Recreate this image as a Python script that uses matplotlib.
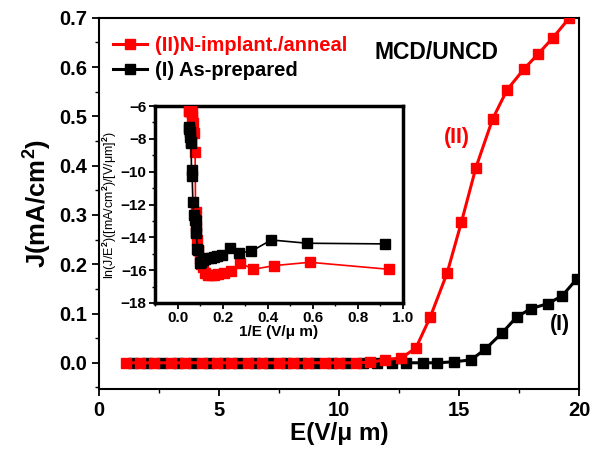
import matplotlib
matplotlib.use("Agg")
import matplotlib.pyplot as plt
from matplotlib.ticker import MultipleLocator

plt.rcParams['font.family'] = ['Liberation Sans', 'DejaVu Sans']
plt.rcParams['font.weight'] = 'bold'
plt.rcParams['mathtext.fontset'] = 'custom'
plt.rcParams['mathtext.rm'] = 'Liberation Sans:bold'
plt.rcParams['mathtext.it'] = 'Liberation Sans:bold'
plt.rcParams['mathtext.bf'] = 'Liberation Sans:bold'
plt.rcParams['mathtext.default'] = 'bf'

# ---- main panel data: J-E curves ----
E_II = [1.1, 1.7, 2.3, 3.0, 3.6, 4.3, 4.9, 5.5, 6.2, 6.8, 7.5, 8.1, 8.7, 9.4, 10.0,
        10.7, 11.3, 11.9, 12.6, 13.2, 13.8, 14.5, 15.1, 15.7, 16.4, 17.0, 17.7, 18.3, 18.9, 19.6]
J_II = [0.0, 0.0, 0.0, 0.0, 0.0, 0.0, 0.0, 0.0, 0.0, 0.0, 0.0, 0.0, 0.0, 0.0, 0.0,
        0.0, 0.001, 0.006, 0.010, 0.030, 0.093, 0.182, 0.286, 0.396, 0.495, 0.554, 0.596, 0.627, 0.659, 0.700]

E_I = [1.4, 2.0, 2.6, 3.3, 3.9, 4.6, 5.2, 5.8, 6.5, 7.1, 7.8, 8.4, 9.0, 9.7, 10.3,
       11.0, 11.6, 12.2, 12.8, 13.5, 14.1, 14.8, 15.5, 16.1, 16.8, 17.4, 18.0, 18.7, 19.3, 19.9]
J_I = [0.0, 0.0, 0.0, 0.0, 0.0, 0.0, 0.0, 0.0, 0.0, 0.0, 0.0, 0.0, 0.0, 0.0, 0.0,
       0.0, 0.0, 0.0, 0.0, 0.0, 0.0, 0.002, 0.006, 0.028, 0.061, 0.093, 0.110, 0.120, 0.136, 0.170]

# ---- inset data: F-N plot ----
invE_II = [0.051, 0.053, 0.055, 0.057, 0.059, 0.061, 0.064, 0.066, 0.069, 0.073, 0.078, 0.080,
           0.084, 0.088, 0.093, 0.100, 0.106, 0.115, 0.123, 0.133, 0.147, 0.161, 0.180, 0.204,
           0.235, 0.278, 0.335, 0.430, 0.587, 0.940]
lnJ_II = [-6.31, -6.29, -6.28, -6.26, -6.26, -6.30, -6.43, -6.68, -7.05, -7.67, -8.78, -12.45,
          -13.30, -14.16, -14.80, -15.30, -15.60, -15.80, -16.20, -16.29, -16.29, -16.27, -16.25, -16.20,
          -16.05, -15.55, -15.95, -15.72, -15.52, -15.95]

invE_I = [0.050, 0.052, 0.054, 0.056, 0.058, 0.060, 0.062, 0.065, 0.068, 0.072, 0.076, 0.080,
          0.083, 0.083, 0.088, 0.092, 0.098, 0.105, 0.115, 0.123, 0.135, 0.147, 0.160, 0.175,
          0.199, 0.231, 0.271, 0.327, 0.416, 0.575, 0.920]
lnJ_I = [-7.30, -7.40, -7.60, -7.87, -8.17, -8.27, -9.90, -10.26, -11.83, -12.64, -12.94, -13.00,
         -13.65, -13.76, -14.70, -14.77, -15.54, -15.48, -15.40, -15.35, -15.28, -15.25, -15.20, -15.15,
         -15.07, -14.67, -14.93, -14.85, -14.16, -14.36, -14.40]

RED = '#ff0000'
BLACK = '#000000'

fig = plt.figure(figsize=(5.97, 4.57), dpi=100)
ax = fig.add_axes([0.166, 0.149, 0.804, 0.812])

l_I, = ax.plot(E_I, J_I, '-s', color=BLACK, lw=2.2, ms=7.3, mec=BLACK, zorder=3)
l_II, = ax.plot(E_II, J_II, '-s', color=RED, lw=2.2, ms=7.3, mec=RED, zorder=4)

ax.set_xlim(0, 20)
ax.set_ylim(-0.053, 0.70)
ax.xaxis.set_major_locator(MultipleLocator(5))
ax.xaxis.set_minor_locator(MultipleLocator(2.5))
ax.yaxis.set_minor_locator(MultipleLocator(0.05))
ax.set_yticks([0.0, 0.1, 0.2, 0.3, 0.4, 0.5, 0.6, 0.7])
ax.set_yticklabels(['0.0', '0.1', '0.2', '0.3', '0.4', '0.5', '0.6', '0.7'])
ax.tick_params(which='major', direction='out', length=5, width=1.3, labelsize=14.5)
ax.tick_params(which='minor', direction='out', length=3, width=1.0)
ax.tick_params(top=False, right=False)
for s in ax.spines.values():
    s.set_linewidth(1.5)

ax.set_xlabel('E(V/\u03bc m)', fontsize=17.5, fontweight='bold', labelpad=2)
ax.set_ylabel('J(mA/cm$^2$)', fontsize=18.5, fontweight='bold', labelpad=4)

leg = ax.legend([l_II, l_I], ['(II)N-implant./anneal', '(I) As-prepared'],
                loc='upper left', bbox_to_anchor=(0.0, 0.99), frameon=False,
                fontsize=14.5, handlelength=1.7, handletextpad=0.4, labelspacing=0.3,
                borderaxespad=0.3, markerscale=0.9)
for t, c in zip(leg.get_texts(), [RED, BLACK]):
    t.set_color(c)
    t.set_fontweight('bold')

ax.text(14.05, 0.629, 'MCD/UNCD', fontsize=16.5, fontweight='bold', ha='center', va='center')
ax.text(14.9, 0.458, '(II)', color=RED, fontsize=15.5, fontweight='bold', ha='center', va='center')
ax.text(19.2, 0.077, '(I)', color=BLACK, fontsize=15.5, fontweight='bold', ha='center', va='center')

# ---- inset ----
ins = fig.add_axes([0.2596, 0.337, 0.4154, 0.431])
ins.plot(invE_II, lnJ_II, '-s', color=RED, lw=1.2, ms=6.5, mec=RED, zorder=3)
ins.plot(invE_I, lnJ_I, '-s', color=BLACK, lw=1.2, ms=6.5, mec=BLACK, zorder=4)
ins.set_xlim(-0.1, 1.0)
ins.set_ylim(-18, -6)
ins.xaxis.set_major_locator(MultipleLocator(0.2))
ins.xaxis.set_minor_locator(MultipleLocator(0.1))
ins.yaxis.set_major_locator(MultipleLocator(2))
ins.yaxis.set_minor_locator(MultipleLocator(1))
ins.tick_params(which='major', direction='out', length=4, width=1.3, labelsize=11, pad=2)
ins.tick_params(which='minor', direction='out', length=2, width=1.0)
for s in ins.spines.values():
    s.set_linewidth(2.5)
ins.set_xlabel('1/E (V/\u03bc m)', fontsize=11, fontweight='bold', labelpad=0)
ins.set_ylabel('ln(J/E$^2$)([mA/cm$^2$)/[V/\u03bcm]$^2$)', fontsize=9, fontweight='normal', labelpad=1)

fig.savefig('out.png', dpi=100)
